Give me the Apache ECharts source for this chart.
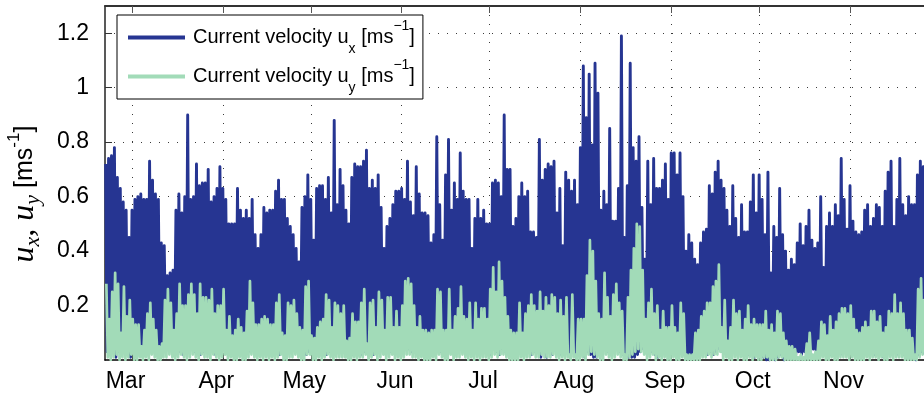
<!DOCTYPE html>
<html>
<head>
<meta charset="utf-8">
<script src="https://cdn.jsdelivr.net/npm/echarts@6/dist/echarts.min.js"></script>
<style>
  html, body { margin: 0; padding: 0; background: #fff; }
  #chart { width: 924px; height: 398px; }
</style>
</head>
<body>
<div id="chart"></div>
<script>
// Time is counted in days from 1 March (day 0); the record starts on day -9.
const firstDay = -9;
const monthStarts = [0, 31, 61, 92, 122, 153, 184, 214, 245];
const monthNames = ['Mar', 'Apr', 'May', 'Jun', 'Jul', 'Aug', 'Sep', 'Oct', 'Nov'];
const yTicks = [0.2, 0.4, 0.6, 0.8, 1, 1.2];

// Daily tidal maxima of u_x [m/s], ten days per row
const uxPeak = [
  0.72,0.74,0.75,0.78,0.67,0.63,0.58,0.55,0.45,0.55,
  0.59,0.60,0.61,0.59,0.59,0.73,0.66,0.61,0.59,0.43,
  0.42,0.31,0.32,0.33,0.55,0.61,0.54,0.60,0.90,0.59,
  0.60,0.72,0.64,0.65,0.65,0.70,0.58,0.60,0.63,0.71,
  0.63,0.59,0.50,0.50,0.50,0.63,0.55,0.52,0.55,0.52,
  0.59,0.46,0.41,0.46,0.56,0.54,0.55,0.55,0.62,0.66,
  0.59,0.59,0.52,0.49,0.46,0.41,0.36,0.56,0.60,0.68,
  0.59,0.44,0.63,0.64,0.64,0.59,0.67,0.54,0.88,0.57,
  0.70,0.64,0.55,0.50,0.67,0.72,0.71,0.71,0.73,0.77,
  0.63,0.66,0.63,0.68,0.56,0.41,0.49,0.52,0.57,0.62,
  0.62,0.63,0.59,0.73,0.58,0.53,0.71,0.61,0.54,0.54,
  0.53,0.43,0.46,0.82,0.57,0.44,0.68,0.81,0.55,0.65,
  0.59,0.76,0.62,0.59,0.59,0.41,0.52,0.59,0.52,0.55,
  0.50,0.50,0.65,0.66,0.65,0.60,0.90,0.70,0.70,0.49,
  0.52,0.60,0.65,0.60,0.62,0.47,0.47,0.45,0.81,0.66,
  0.70,0.72,0.71,0.73,0.54,0.63,0.42,0.69,0.66,0.62,
  0.66,0.57,0.78,1.08,0.89,1.05,0.79,1.09,0.98,0.55,
  0.62,0.57,0.85,0.51,0.51,0.63,1.19,0.45,0.64,1.09,
  0.78,0.73,0.82,0.56,0.37,0.73,0.57,0.74,0.63,0.63,
  0.66,0.72,0.59,0.76,0.76,0.68,0.76,0.60,0.40,0.46,
  0.43,0.37,0.35,0.43,0.47,0.48,0.64,0.61,0.69,0.73,
  0.66,0.63,0.55,0.49,0.64,0.52,0.45,0.57,0.47,0.47,
  0.58,0.68,0.54,0.68,0.59,0.46,0.69,0.32,0.49,0.45,
  0.63,0.46,0.40,0.33,0.37,0.35,0.43,0.50,0.42,0.49,
  0.55,0.44,0.41,0.43,0.60,0.34,0.49,0.54,0.49,0.57,
  0.53,0.74,0.59,0.48,0.64,0.51,0.47,0.46,0.47,0.55,
  0.57,0.49,0.52,0.57,0.56,0.49,0.62,0.69,0.73,0.49,
  0.59,0.74,0.57,0.53,0.60,0.57,0.57,0.68,0.73,0.71
];

// Daily tidal minima of u_x [m/s]
const uxTrough = [
  .03,.02,.04,.01,.03,.02,.05,.02,.01,.03,
  .04,.02,.03,.05,.02,.03,.04,.02,.01,.03,
  .06,.08,.07,.05,.04,.03,.02,.04,.03,.05,
  .03,.04,.02,.03,.05,.04,.03,.02,.04,.03,
  .05,.07,.06,.08,.06,.04,.05,.06,.04,.03,
  .04,.06,.07,.05,.04,.05,.03,.04,.03,.02,
  .04,.05,.06,.07,.05,.06,.08,.03,.02,.03,
  .05,.06,.04,.03,.04,.02,.03,.04,.02,.03,
  .04,.06,.05,.03,.02,.03,.04,.02,.03,.04,
  .03,.02,.04,.03,.05,.03,.04,.03,.05,.06,
  .05,.06,.07,.04,.03,.05,.06,.04,.05,.03,
  .04,.03,.05,.04,.03,.06,.04,.03,.05,.04,
  .06,.05,.03,.02,.04,.03,.04,.05,.03,.04,
  .03,.02,.04,.03,.02,.04,.03,.02,.04,.03,
  .02,.03,.02,.03,.04,.02,.03,.04,.01,.03,
  .01,.03,.02,.04,.03,.02,.04,.03,.02,.03,
  .02,.03,.02,.01,.03,.02,.01,.01,.02,.03,
  .04,.03,.02,.03,.04,.03,.02,.01,.01,.01,
  .01,.02,.03,.04,.05,.04,.03,.02,.01,.02,
  .03,.02,.03,.04,.03,.05,.04,.02,.01,.01,
  .01,.02,.03,.02,.03,.02,.03,.02,.03,.04,
  .03,.04,.03,.02,.04,.03,.04,.03,.02,.02,
  .02,.01,.02,.01,.01,.00,.00,.01,.00,.01,
  .02,.00,.01,.02,.03,.02,.03,.02,.03,.02,
  .03,.04,.03,.02,.03,.02,.03,.02,.03,.02,
  .03,.02,.03,.02,.04,.03,.02,.03,.04,.03,
  .02,.03,.02,.03,.02,.01,.02,.03,.02,.03,
  .02,.03,.02,.01,.01,.01,.00,.02,.03,.02
];

// Daily tidal maxima of u_y [m/s]
const uyPeak = [
  0.28,0.15,0.25,0.32,0.28,0.10,0.27,0.16,0.22,0.15,
  0.13,0.13,0.05,0.11,0.17,0.21,0.15,0.11,0.05,0.06,
  0.22,0.26,0.21,0.11,0.17,0.28,0.20,0.20,0.24,0.28,
  0.24,0.17,0.28,0.23,0.23,0.22,0.26,0.17,0.20,0.20,
  0.26,0.11,0.16,0.09,0.11,0.15,0.12,0.10,0.18,0.29,
  0.21,0.13,0.13,0.15,0.16,0.15,0.13,0.13,0.21,0.24,
  0.10,0.09,0.21,0.20,0.22,0.17,0.12,0.11,0.27,0.29,
  0.09,0.08,0.12,0.14,0.15,0.24,0.22,0.12,0.21,0.20,
  0.17,0.20,0.07,0.08,0.17,0.14,0.14,0.21,0.26,0.06,
  0.21,0.22,0.12,0.25,0.22,0.11,0.23,0.23,0.12,0.18,
  0.12,0.20,0.29,0.30,0.28,0.20,0.12,0.16,0.11,0.11,
  0.10,0.11,0.11,0.26,0.25,0.11,0.11,0.26,0.11,0.16,
  0.19,0.27,0.16,0.15,0.21,0.11,0.21,0.15,0.19,0.19,
  0.15,0.26,0.34,0.25,0.36,0.29,0.23,0.16,0.11,0.10,
  0.10,0.21,0.10,0.17,0.20,0.24,0.20,0.18,0.25,0.18,
  0.23,0.20,0.24,0.23,0.17,0.22,0.16,0.23,0.02,0.24,
  0.02,0.15,0.15,0.15,0.31,0.44,0.40,0.29,0.17,0.15,
  0.32,0.23,0.16,0.24,0.28,0.21,0.18,0.02,0.23,0.33,
  0.41,0.50,0.49,0.33,0.15,0.21,0.26,0.17,0.20,0.11,
  0.18,0.12,0.12,0.20,0.12,0.10,0.21,0.17,0.02,0.02,
  0.02,0.10,0.11,0.16,0.18,0.21,0.21,0.27,0.29,0.35,
  0.12,0.22,0.07,0.12,0.22,0.17,0.18,0.11,0.15,0.20,
  0.13,0.15,0.13,0.13,0.13,0.18,0.11,0.13,0.10,0.18,
  0.17,0.10,0.07,0.05,0.05,0.04,0.01,0.02,0.01,0.06,
  0.10,0.02,0.03,0.07,0.14,0.13,0.09,0.16,0.11,0.14,
  0.17,0.19,0.19,0.17,0.20,0.15,0.11,0.10,0.12,0.14,
  0.12,0.18,0.18,0.14,0.16,0.10,0.12,0.18,0.17,0.24,
  0.17,0.21,0.17,0.11,0.11,0.08,0.02,0.26,0.30,0.22
];

// Daily tidal minima of u_y [m/s]
const uyTrough = [
  .01,.00,.01,.02,.00,.01,.00,.01,.02,.00,
  .00,.01,.00,.01,.00,.02,.01,.00,.00,.01,
  .01,.02,.01,.00,.01,.02,.01,.00,.01,.02,
  .01,.00,.02,.01,.01,.00,.02,.01,.00,.01,
  .02,.00,.01,.00,.00,.01,.00,.00,.01,.02,
  .01,.00,.01,.00,.01,.00,.01,.00,.01,.02,
  .00,.00,.01,.01,.02,.01,.00,.00,.02,.02,
  .00,.00,.01,.00,.01,.02,.01,.00,.01,.01,
  .01,.01,.00,.00,.01,.00,.01,.01,.02,.00,
  .01,.02,.00,.01,.02,.00,.01,.02,.00,.01,
  .00,.01,.02,.02,.01,.01,.00,.01,.00,.00,
  .00,.01,.00,.02,.01,.00,.00,.02,.00,.01,
  .01,.02,.01,.00,.01,.00,.01,.00,.01,.01,
  .00,.01,.02,.01,.02,.02,.01,.00,.00,.00,
  .00,.01,.00,.01,.01,.02,.01,.01,.02,.01,
  .01,.01,.02,.01,.00,.01,.00,.01,.00,.01,
  .00,.00,.01,.00,.02,.03,.02,.01,.00,.00,
  .02,.01,.00,.01,.02,.01,.00,.00,.01,.02,
  .03,.04,.03,.02,.00,.01,.02,.00,.01,.00,
  .01,.00,.00,.01,.00,.00,.01,.00,.00,.00,
  .00,.00,.00,.01,.01,.02,.01,.02,.02,.03,
  .00,.01,.00,.00,.01,.00,.01,.00,.00,.01,
  .00,.01,.00,.00,.01,.01,.00,.00,.00,.01,
  .01,.00,.00,.00,.00,.00,.00,.00,.00,.00,
  .00,.00,.00,.00,.01,.00,.00,.01,.00,.00,
  .01,.01,.01,.00,.01,.00,.00,.00,.00,.01,
  .00,.01,.01,.00,.01,.00,.00,.01,.00,.01,
  .01,.01,.00,.00,.00,.00,.00,.01,.02,.01
];

const NAVY = '#263592';
const MINT = '#a2dbb8';
const SANS = 'Liberation Sans, Arial, Helvetica, sans-serif';
const SERIF = 'Liberation Serif, Times New Roman, serif';

// Each day contributes one high and one low sample, giving the dense tidal trace.
function tidalTrace(peaks, troughs, phase) {
  const pts = [];
  for (let i = 0; i < peaks.length; i++) {
    const day = firstDay + i + phase;
    pts.push([day, peaks[i]]);
    pts.push([day + 0.5, troughs[i]]);
  }
  return pts;
}

const monthLabel = v => {
  const k = monthStarts.indexOf(Math.round(v));
  return k >= 0 ? monthNames[k] : '';
};

const dotted = { color: '#3a3a3a', width: 1, type: [1, 8] };

const legendRich = {
  lead: { fontFamily: SANS, fontSize: 20, color: '#000', lineHeight: 37, padding: [0, 0, 0, 3] },
  t:    { fontFamily: SANS, fontSize: 20, color: '#000', lineHeight: 37 },
  sub:  { fontFamily: SANS, fontSize: 14, color: '#000', lineHeight: 14, verticalAlign: 'bottom' },
  sup:  { fontFamily: SANS, fontSize: 14, color: '#000', lineHeight: 31, verticalAlign: 'top' }
};

const seriesNames = ['Current velocity ux', 'Current velocity uy'];
const legendText = {
  'Current velocity ux': '{lead|Current velocity u}{sub|x}{t| [ms}{sup|\u22121}{t|]}',
  'Current velocity uy': '{lead|Current velocity u}{sub|y}{t| [ms}{sup|\u22121}{t|]}'
};

const chart = echarts.init(document.getElementById('chart'), null, { renderer: 'canvas' });

chart.setOption({
  animation: false,
  backgroundColor: '#fff',
  grid: { left: 105, right: 0, top: 6, bottom: 38, containLabel: false },
  xAxis: [
    {
      type: 'value',
      min: -9.213,
      max: 270.25,
      axisLine: { show: true, onZero: false, lineStyle: { color: '#000', width: 1.5 } },
      axisTick: { show: true, inside: true, length: 7, customValues: monthStarts, lineStyle: { color: '#333' } },
      axisLabel: {
        show: true, customValues: monthStarts, formatter: monthLabel,
        fontFamily: SANS, fontSize: 23, color: '#000', margin: 10, padding: [0, 13, 0, 0]
      },
      splitLine: { show: true, lineStyle: dotted }
    },
    {
      type: 'value',
      position: 'top',
      min: -9.213,
      max: 270.25,
      axisLine: { show: true, onZero: false, lineStyle: { color: '#333', width: 2 } },
      axisTick: { show: true, inside: true, length: 7, customValues: monthStarts, lineStyle: { color: '#555' } },
      axisLabel: { show: false },
      splitLine: { show: false }
    }
  ],
  yAxis: {
    type: 'value',
    min: 0,
    max: 1.3,
    interval: 0.2,
    axisLine: { show: true, onZero: false, lineStyle: { color: '#222', width: 1.5 } },
    axisTick: { show: true, inside: true, length: 7, customValues: yTicks, lineStyle: { color: '#333' } },
    axisLabel: {
      customValues: yTicks, formatter: v => String(v),
      fontFamily: SANS, fontSize: 23, color: '#000', margin: 16
    },
    splitLine: { show: true, lineStyle: dotted }
  },
  legend: {
    orient: 'vertical',
    left: 117,
    top: 15,
    padding: [4, 8, 4, 11],
    itemGap: 2,
    itemWidth: 57,
    itemHeight: 4,
    icon: 'rect',
    backgroundColor: '#fff',
    borderColor: '#000',
    borderWidth: 1,
    borderRadius: 0,
    data: seriesNames,
    formatter: name => legendText[name],
    textStyle: { rich: legendRich }
  },
  graphic: [{
    type: 'text',
    x: 25,
    y: 194,
    rotation: Math.PI / 2,
    style: {
      text: '{i|u}{isub|x}{i|, u}{isub|y}{n| [ms}{sup|-1}{n|]}',
      align: 'center',
      verticalAlign: 'middle',
      rich: {
        i:    { fontFamily: SERIF, fontStyle: 'italic', fontSize: 32, fill: '#000', lineHeight: 38 },
        isub: { fontFamily: SERIF, fontStyle: 'italic', fontSize: 22, fill: '#000', lineHeight: 21, verticalAlign: 'bottom' },
        n:    { fontFamily: SANS, fontSize: 25, fill: '#000', lineHeight: 38 },
        sup:  { fontFamily: SANS, fontSize: 17, fill: '#000', lineHeight: 26, verticalAlign: 'top' }
      }
    }
  }],
  series: [
    {
      name: seriesNames[0],
      type: 'line',
      data: tidalTrace(uxPeak, uxTrough, 0),
      showSymbol: false,
      symbol: 'none',
      lineStyle: { color: NAVY, width: 2.9, join: 'round' },
      itemStyle: { color: NAVY },
      silent: true,
      z: 2
    },
    {
      name: seriesNames[1],
      type: 'line',
      data: tidalTrace(uyPeak, uyTrough, 0.25),
      showSymbol: false,
      symbol: 'none',
      lineStyle: { color: MINT, width: 2.7, join: 'round' },
      itemStyle: { color: MINT },
      silent: true,
      z: 3
    }
  ]
});
</script>
</body>
</html>
